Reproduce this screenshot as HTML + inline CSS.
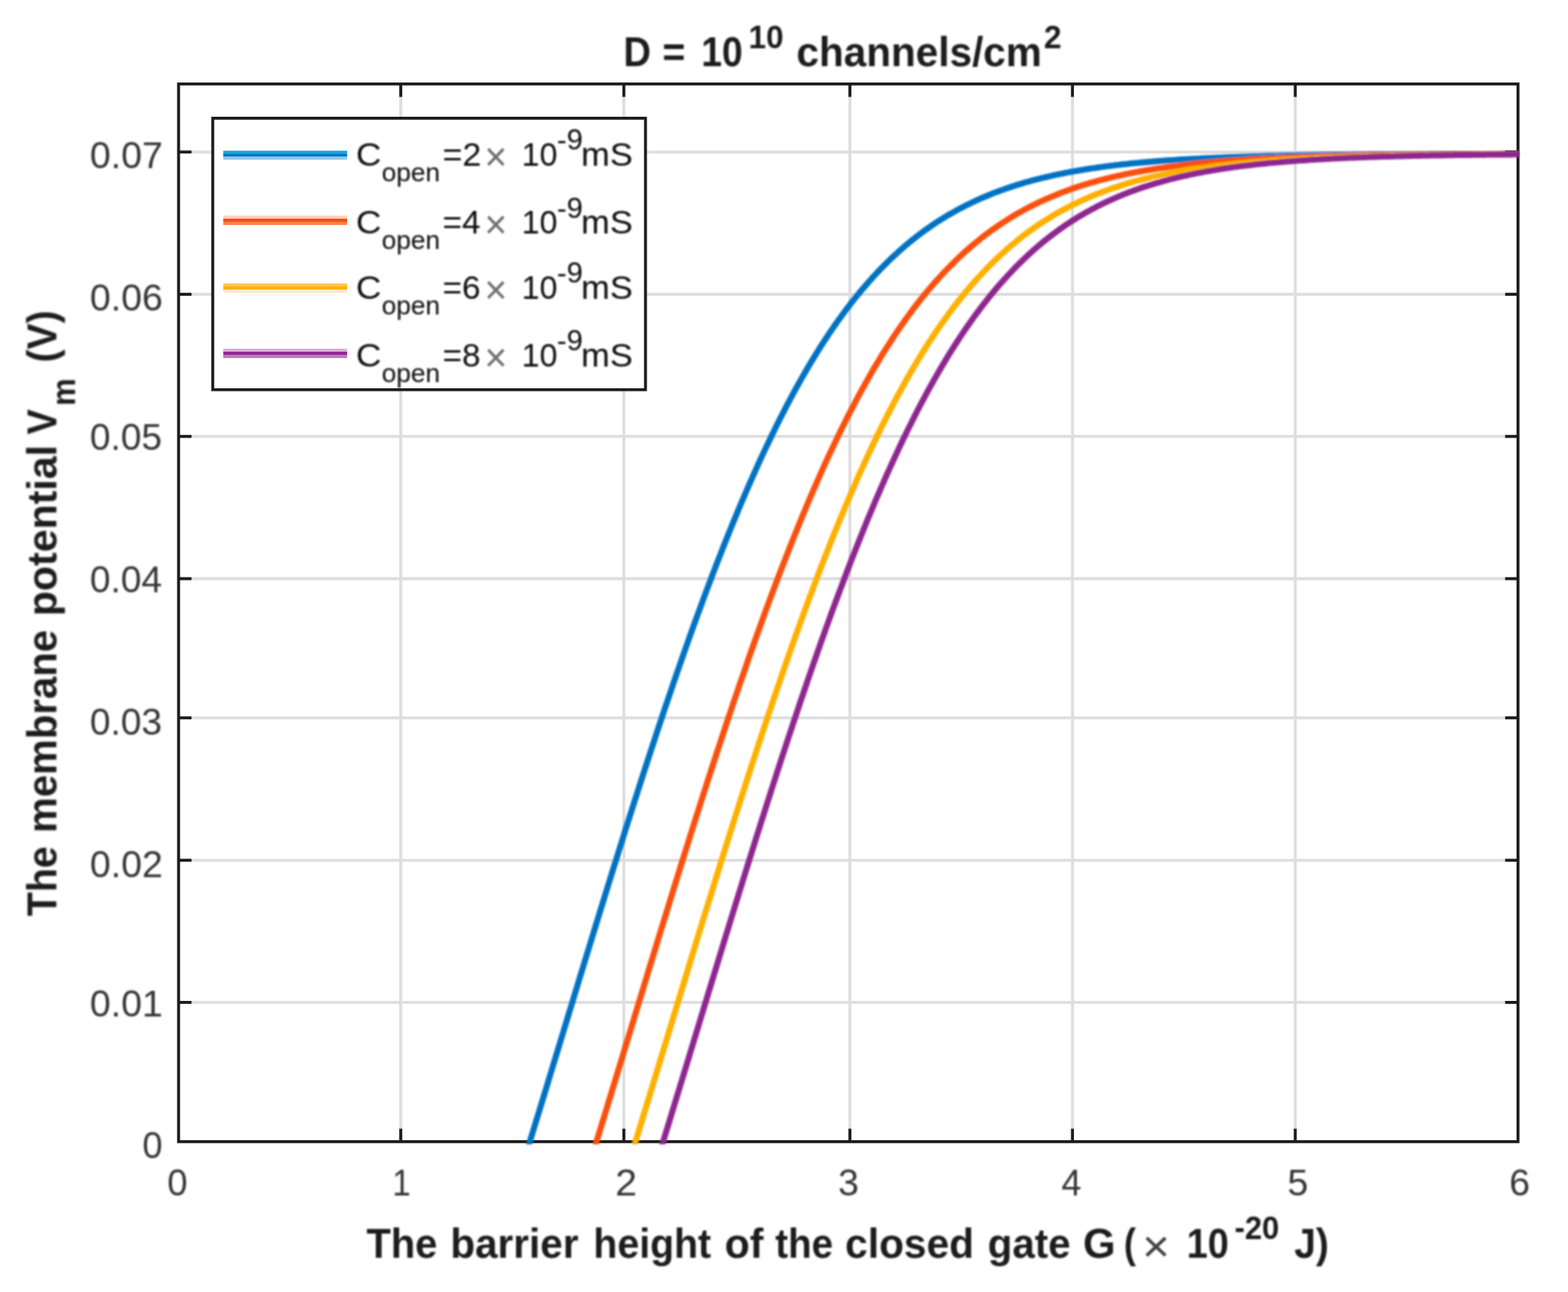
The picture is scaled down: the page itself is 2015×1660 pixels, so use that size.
<!DOCTYPE html>
<html lang="en"><head><meta charset="utf-8"><title>Membrane potential vs barrier height</title>
<style>
html,body{margin:0;padding:0;background:#fff;}
body{width:2015px;height:1660px;overflow:hidden;}
svg{display:block;}
text{font-family:"Liberation Sans",Arial,Helvetica,sans-serif;fill:#262626;}
.tk{font-size:48px;fill:#343434;}
.b{font-size:52.8px;font-weight:bold;fill:#1c1c1c;}
.bs{font-size:42.2px;font-weight:bold;fill:#1c1c1c;}
.lg{font-size:43.4px;fill:#0a0a0a;}
.lsub{font-size:33.5px;fill:#0a0a0a;}
.lsup{font-size:37px;fill:#0a0a0a;}
.xx{font-size:58px;fill:#404040;}
.lx{font-size:51px;fill:#707070;}
</style></head><body>
<svg width="2015" height="1660" viewBox="0 0 2015 1660">
<defs><clipPath id="cp"><rect x="227.60" y="106.00" width="1725.05" height="1364.25"/></clipPath>
<filter id="bl" filterUnits="userSpaceOnUse" x="0" y="0" width="2015" height="1660"><feGaussianBlur stdDeviation="0.55"/></filter>
<filter id="bc" filterUnits="userSpaceOnUse" x="0" y="0" width="2015" height="1660"><feGaussianBlur stdDeviation="1.3"/></filter>
<filter id="bt" filterUnits="userSpaceOnUse" x="0" y="0" width="2015" height="1660"><feGaussianBlur stdDeviation="1.2"/></filter>
</defs>
<rect width="2015" height="1660" fill="#fff"/>
<g filter="url(#bl)">
<g stroke="#dedede" stroke-width="3.8" fill="none">
<line x1="515.0" y1="107.9" x2="515.0" y2="1466.8"/>
<line x1="801.7" y1="107.9" x2="801.7" y2="1466.8"/>
<line x1="1092.2" y1="107.9" x2="1092.2" y2="1466.8"/>
<line x1="1378.2" y1="107.9" x2="1378.2" y2="1466.8"/>
<line x1="1664.5" y1="107.9" x2="1664.5" y2="1466.8"/>
<line x1="229.5" y1="1287.9" x2="1950.8" y2="1287.9"/>
<line x1="229.5" y1="1105.3" x2="1950.8" y2="1105.3"/>
<line x1="229.5" y1="922.3" x2="1950.8" y2="922.3"/>
<line x1="229.5" y1="743.5" x2="1950.8" y2="743.5"/>
<line x1="229.5" y1="560.7" x2="1950.8" y2="560.7"/>
<line x1="229.5" y1="378.1" x2="1950.8" y2="378.1"/>
<line x1="229.5" y1="195.3" x2="1950.8" y2="195.3"/>
</g>
<g stroke="#1e1e1e" stroke-width="3.8" fill="none">
<rect x="229.50" y="107.90" width="1721.25" height="1358.95"/>
<line x1="515.0" y1="1466.8" x2="515.0" y2="1450.2"/>
<line x1="515.0" y1="107.9" x2="515.0" y2="124.5"/>
<line x1="801.7" y1="1466.8" x2="801.7" y2="1450.2"/>
<line x1="801.7" y1="107.9" x2="801.7" y2="124.5"/>
<line x1="1092.2" y1="1466.8" x2="1092.2" y2="1450.2"/>
<line x1="1092.2" y1="107.9" x2="1092.2" y2="124.5"/>
<line x1="1378.2" y1="1466.8" x2="1378.2" y2="1450.2"/>
<line x1="1378.2" y1="107.9" x2="1378.2" y2="124.5"/>
<line x1="1664.5" y1="1466.8" x2="1664.5" y2="1450.2"/>
<line x1="1664.5" y1="107.9" x2="1664.5" y2="124.5"/>
<line x1="229.5" y1="1287.9" x2="246.1" y2="1287.9"/>
<line x1="1950.8" y1="1287.9" x2="1934.2" y2="1287.9"/>
<line x1="229.5" y1="1105.3" x2="246.1" y2="1105.3"/>
<line x1="1950.8" y1="1105.3" x2="1934.2" y2="1105.3"/>
<line x1="229.5" y1="922.3" x2="246.1" y2="922.3"/>
<line x1="1950.8" y1="922.3" x2="1934.2" y2="922.3"/>
<line x1="229.5" y1="743.5" x2="246.1" y2="743.5"/>
<line x1="1950.8" y1="743.5" x2="1934.2" y2="743.5"/>
<line x1="229.5" y1="560.7" x2="246.1" y2="560.7"/>
<line x1="1950.8" y1="560.7" x2="1934.2" y2="560.7"/>
<line x1="229.5" y1="378.1" x2="246.1" y2="378.1"/>
<line x1="1950.8" y1="378.1" x2="1934.2" y2="378.1"/>
<line x1="229.5" y1="195.3" x2="246.1" y2="195.3"/>
<line x1="1950.8" y1="195.3" x2="1934.2" y2="195.3"/>
</g>
</g>
<g filter="url(#bc)">
<g fill="none" stroke-linejoin="round" clip-path="url(#cp)">
<path stroke="#0072c4" stroke-width="7.8" d="M669.0,1505.4 L672.0,1495.7 L675.0,1486.0 L678.0,1476.2 L681.0,1466.5 L684.0,1456.7 L687.0,1446.9 L690.0,1437.1 L693.0,1427.3 L696.0,1417.5 L699.0,1407.6 L702.0,1397.8 L705.0,1387.9 L708.0,1378.1 L711.0,1368.2 L714.0,1358.4 L717.0,1348.5 L720.0,1338.6 L723.0,1328.8 L726.0,1318.9 L729.0,1309.0 L732.0,1299.2 L735.0,1289.3 L738.0,1279.4 L741.0,1269.6 L744.0,1259.7 L747.0,1249.9 L750.0,1240.1 L753.0,1230.2 L756.0,1220.4 L759.0,1210.6 L762.0,1200.8 L765.0,1191.0 L768.0,1181.3 L771.0,1171.5 L774.0,1161.8 L777.0,1152.1 L780.0,1142.4 L783.0,1132.7 L786.0,1123.0 L789.0,1113.4 L792.0,1103.8 L795.0,1094.2 L798.0,1084.6 L801.0,1075.1 L804.0,1065.5 L807.0,1056.0 L810.0,1046.6 L813.0,1037.1 L816.0,1027.7 L819.0,1018.4 L822.0,1009.0 L825.0,999.7 L828.0,990.4 L831.0,981.2 L834.0,972.0 L837.0,962.8 L840.0,953.7 L843.0,944.6 L846.0,935.5 L849.0,926.5 L852.0,917.5 L855.0,908.6 L858.0,899.7 L861.0,890.9 L864.0,882.1 L867.0,873.3 L870.0,864.6 L873.0,855.9 L876.0,847.3 L879.0,838.8 L882.0,830.2 L885.0,821.8 L888.0,813.4 L891.0,805.0 L894.0,796.7 L897.0,788.5 L900.0,780.3 L903.0,772.1 L906.0,764.1 L909.0,756.0 L912.0,748.1 L915.0,740.1 L918.0,732.3 L921.0,724.5 L924.0,716.8 L927.0,709.1 L930.0,701.5 L933.0,694.0 L936.0,686.5 L939.0,679.1 L942.0,671.7 L945.0,664.4 L948.0,657.2 L951.0,650.1 L954.0,643.0 L957.0,635.9 L960.0,629.0 L963.0,622.1 L966.0,615.3 L969.0,608.5 L972.0,601.8 L975.0,595.2 L978.0,588.7 L981.0,582.2 L984.0,575.8 L987.0,569.5 L990.0,563.2 L993.0,557.0 L996.0,550.9 L999.0,544.8 L1002.0,538.8 L1005.0,532.9 L1008.0,527.1 L1011.0,521.3 L1014.0,515.6 L1017.0,510.0 L1020.0,504.4 L1023.0,498.9 L1026.0,493.5 L1029.0,488.2 L1032.0,482.9 L1035.0,477.7 L1038.0,472.5 L1041.0,467.5 L1044.0,462.5 L1047.0,457.6 L1050.0,452.7 L1053.0,447.9 L1056.0,443.2 L1059.0,438.5 L1062.0,434.0 L1065.0,429.4 L1068.0,425.0 L1071.0,420.6 L1074.0,416.3 L1077.0,412.1 L1080.0,407.9 L1083.0,403.8 L1086.0,399.7 L1089.0,395.7 L1092.0,391.8 L1095.0,387.9 L1098.0,384.1 L1101.0,380.4 L1104.0,376.7 L1107.0,373.1 L1110.0,369.6 L1113.0,366.1 L1116.0,362.6 L1119.0,359.3 L1122.0,355.9 L1125.0,352.7 L1128.0,349.5 L1131.0,346.3 L1134.0,343.3 L1137.0,340.2 L1140.0,337.2 L1143.0,334.3 L1146.0,331.4 L1149.0,328.6 L1152.0,325.9 L1155.0,323.1 L1158.0,320.5 L1161.0,317.9 L1164.0,315.3 L1167.0,312.8 L1170.0,310.3 L1173.0,307.9 L1176.0,305.5 L1179.0,303.2 L1182.0,300.9 L1185.0,298.6 L1188.0,296.4 L1191.0,294.3 L1194.0,292.2 L1197.0,290.1 L1200.0,288.1 L1203.0,286.1 L1206.0,284.1 L1209.0,282.2 L1212.0,280.4 L1215.0,278.5 L1218.0,276.7 L1221.0,275.0 L1224.0,273.3 L1227.0,271.6 L1230.0,269.9 L1233.0,268.3 L1236.0,266.7 L1239.0,265.2 L1242.0,263.6 L1245.0,262.2 L1248.0,260.7 L1251.0,259.3 L1254.0,257.9 L1257.0,256.5 L1260.0,255.2 L1263.0,253.9 L1266.0,252.6 L1269.0,251.3 L1272.0,250.1 L1275.0,248.9 L1278.0,247.7 L1281.0,246.6 L1284.0,245.5 L1287.0,244.4 L1290.0,243.3 L1293.0,242.2 L1296.0,241.2 L1299.0,240.2 L1302.0,239.2 L1305.0,238.3 L1308.0,237.3 L1311.0,236.4 L1314.0,235.5 L1317.0,234.6 L1320.0,233.8 L1323.0,232.9 L1326.0,232.1 L1329.0,231.3 L1332.0,230.5 L1335.0,229.8 L1338.0,229.0 L1341.0,228.3 L1344.0,227.6 L1347.0,226.9 L1350.0,226.2 L1353.0,225.5 L1356.0,224.8 L1359.0,224.2 L1362.0,223.6 L1365.0,223.0 L1368.0,222.4 L1371.0,221.8 L1374.0,221.2 L1377.0,220.7 L1380.0,220.1 L1383.0,219.6 L1386.0,219.1 L1389.0,218.6 L1392.0,218.1 L1395.0,217.6 L1398.0,217.1 L1401.0,216.6 L1404.0,216.2 L1407.0,215.8 L1410.0,215.3 L1413.0,214.9 L1416.0,214.5 L1419.0,214.1 L1422.0,213.7 L1425.0,213.3 L1428.0,212.9 L1431.0,212.6 L1434.0,212.2 L1437.0,211.9 L1440.0,211.5 L1443.0,211.2 L1446.0,210.9 L1449.0,210.6 L1452.0,210.2 L1455.0,209.9 L1458.0,209.6 L1461.0,209.4 L1464.0,209.1 L1467.0,208.8 L1470.0,208.5 L1473.0,208.3 L1476.0,208.0 L1479.0,207.8 L1482.0,207.5 L1485.0,207.3 L1488.0,207.0 L1491.0,206.8 L1494.0,206.6 L1497.0,206.4 L1500.0,206.2 L1503.0,206.0 L1506.0,205.8 L1509.0,205.6 L1512.0,205.4 L1515.0,205.2 L1518.0,205.0 L1521.0,204.8 L1524.0,204.6 L1527.0,204.5 L1530.0,204.3 L1533.0,204.1 L1536.0,204.0 L1539.0,203.8 L1542.0,203.7 L1545.0,203.5 L1548.0,203.4 L1551.0,203.2 L1554.0,203.1 L1557.0,203.0 L1560.0,202.8 L1563.0,202.7 L1566.0,202.6 L1569.0,202.5 L1572.0,202.3 L1575.0,202.2 L1578.0,202.1 L1581.0,202.0 L1584.0,201.9 L1587.0,201.8 L1590.0,201.7 L1593.0,201.6 L1596.0,201.5 L1599.0,201.4 L1602.0,201.3 L1605.0,201.2 L1608.0,201.1 L1611.0,201.0 L1614.0,200.9 L1617.0,200.9 L1620.0,200.8 L1623.0,200.7 L1626.0,200.6 L1629.0,200.5 L1632.0,200.5 L1635.0,200.4 L1638.0,200.3 L1641.0,200.3 L1644.0,200.2 L1647.0,200.1 L1650.0,200.1 L1653.0,200.0 L1656.0,199.9 L1659.0,199.9 L1662.0,199.8 L1665.0,199.8 L1668.0,199.7 L1671.0,199.7 L1674.0,199.6 L1677.0,199.6 L1680.0,199.5 L1683.0,199.5 L1686.0,199.4 L1689.0,199.4 L1692.0,199.3 L1695.0,199.3 L1698.0,199.2 L1701.0,199.2 L1704.0,199.1 L1707.0,199.1 L1710.0,199.1 L1713.0,199.0 L1716.0,199.0 L1719.0,199.0 L1722.0,198.9 L1725.0,198.9 L1728.0,198.9 L1731.0,198.8 L1734.0,198.8 L1737.0,198.8 L1740.0,198.7 L1743.0,198.7 L1746.0,198.7 L1749.0,198.6 L1752.0,198.6 L1755.0,198.6 L1758.0,198.6 L1761.0,198.5 L1764.0,198.5 L1767.0,198.5 L1770.0,198.5 L1773.0,198.4 L1776.0,198.4 L1779.0,198.4 L1782.0,198.4 L1785.0,198.3 L1788.0,198.3 L1791.0,198.3 L1794.0,198.3 L1797.0,198.3 L1800.0,198.2 L1803.0,198.2 L1806.0,198.2 L1809.0,198.2 L1812.0,198.2 L1815.0,198.2 L1818.0,198.1 L1821.0,198.1 L1824.0,198.1 L1827.0,198.1 L1830.0,198.1 L1833.0,198.1 L1836.0,198.0 L1839.0,198.0 L1842.0,198.0 L1845.0,198.0 L1848.0,198.0 L1851.0,198.0 L1854.0,198.0 L1857.0,198.0 L1860.0,197.9 L1863.0,197.9 L1866.0,197.9 L1869.0,197.9 L1872.0,197.9 L1875.0,197.9 L1878.0,197.9 L1881.0,197.9 L1884.0,197.9 L1887.0,197.8 L1890.0,197.8 L1893.0,197.8 L1896.0,197.8 L1899.0,197.8 L1902.0,197.8 L1905.0,197.8 L1908.0,197.8 L1911.0,197.8 L1914.0,197.8 L1917.0,197.8 L1920.0,197.8 L1923.0,197.8 L1926.0,197.7 L1929.0,197.7 L1932.0,197.7 L1935.0,197.7 L1938.0,197.7 L1941.0,197.7 L1944.0,197.7 L1947.0,197.7 L1950.0,197.7 L1952.2,197.7"/>
<path stroke="#fa500a" stroke-width="7.8" d="M756.0,1501.0 L759.0,1491.3 L762.0,1481.6 L765.0,1471.8 L768.0,1462.0 L771.0,1452.2 L774.0,1442.5 L777.0,1432.6 L780.0,1422.8 L783.0,1413.0 L786.0,1403.2 L789.0,1393.3 L792.0,1383.5 L795.0,1373.6 L798.0,1363.8 L801.0,1353.9 L804.0,1344.0 L807.0,1334.2 L810.0,1324.3 L813.0,1314.4 L816.0,1304.6 L819.0,1294.7 L822.0,1284.8 L825.0,1275.0 L828.0,1265.1 L831.0,1255.3 L834.0,1245.4 L837.0,1235.6 L840.0,1225.8 L843.0,1216.0 L846.0,1206.2 L849.0,1196.4 L852.0,1186.6 L855.0,1176.9 L858.0,1167.1 L861.0,1157.4 L864.0,1147.7 L867.0,1138.0 L870.0,1128.3 L873.0,1118.7 L876.0,1109.0 L879.0,1099.4 L882.0,1089.8 L885.0,1080.3 L888.0,1070.7 L891.0,1061.2 L894.0,1051.8 L897.0,1042.3 L900.0,1032.9 L903.0,1023.5 L906.0,1014.1 L909.0,1004.8 L912.0,995.5 L915.0,986.2 L918.0,977.0 L921.0,967.8 L924.0,958.7 L927.0,949.5 L930.0,940.5 L933.0,931.4 L936.0,922.4 L939.0,913.5 L942.0,904.6 L945.0,895.7 L948.0,886.9 L951.0,878.1 L954.0,869.4 L957.0,860.7 L960.0,852.0 L963.0,843.4 L966.0,834.9 L969.0,826.4 L972.0,818.0 L975.0,809.6 L978.0,801.2 L981.0,793.0 L984.0,784.7 L987.0,776.6 L990.0,768.5 L993.0,760.4 L996.0,752.4 L999.0,744.5 L1002.0,736.6 L1005.0,728.8 L1008.0,721.0 L1011.0,713.3 L1014.0,705.7 L1017.0,698.1 L1020.0,690.6 L1023.0,683.1 L1026.0,675.7 L1029.0,668.4 L1032.0,661.1 L1035.0,654.0 L1038.0,646.8 L1041.0,639.8 L1044.0,632.8 L1047.0,625.9 L1050.0,619.0 L1053.0,612.2 L1056.0,605.5 L1059.0,598.8 L1062.0,592.2 L1065.0,585.7 L1068.0,579.3 L1071.0,572.9 L1074.0,566.6 L1077.0,560.4 L1080.0,554.2 L1083.0,548.1 L1086.0,542.1 L1089.0,536.1 L1092.0,530.3 L1095.0,524.4 L1098.0,518.7 L1101.0,513.0 L1104.0,507.4 L1107.0,501.9 L1110.0,496.5 L1113.0,491.1 L1116.0,485.8 L1119.0,480.5 L1122.0,475.3 L1125.0,470.2 L1128.0,465.2 L1131.0,460.2 L1134.0,455.3 L1137.0,450.5 L1140.0,445.8 L1143.0,441.1 L1146.0,436.5 L1149.0,431.9 L1152.0,427.4 L1155.0,423.0 L1158.0,418.7 L1161.0,414.4 L1164.0,410.1 L1167.0,406.0 L1170.0,401.9 L1173.0,397.9 L1176.0,393.9 L1179.0,390.0 L1182.0,386.2 L1185.0,382.4 L1188.0,378.7 L1191.0,375.1 L1194.0,371.5 L1197.0,368.0 L1200.0,364.5 L1203.0,361.1 L1206.0,357.8 L1209.0,354.5 L1212.0,351.2 L1215.0,348.1 L1218.0,344.9 L1221.0,341.9 L1224.0,338.9 L1227.0,335.9 L1230.0,333.0 L1233.0,330.2 L1236.0,327.4 L1239.0,324.6 L1242.0,321.9 L1245.0,319.3 L1248.0,316.7 L1251.0,314.1 L1254.0,311.7 L1257.0,309.2 L1260.0,306.8 L1263.0,304.4 L1266.0,302.1 L1269.0,299.9 L1272.0,297.6 L1275.0,295.5 L1278.0,293.3 L1281.0,291.2 L1284.0,289.2 L1287.0,287.2 L1290.0,285.2 L1293.0,283.3 L1296.0,281.4 L1299.0,279.5 L1302.0,277.7 L1305.0,275.9 L1308.0,274.2 L1311.0,272.5 L1314.0,270.8 L1317.0,269.2 L1320.0,267.6 L1323.0,266.0 L1326.0,264.5 L1329.0,263.0 L1332.0,261.5 L1335.0,260.0 L1338.0,258.6 L1341.0,257.3 L1344.0,255.9 L1347.0,254.6 L1350.0,253.3 L1353.0,252.0 L1356.0,250.8 L1359.0,249.6 L1362.0,248.4 L1365.0,247.2 L1368.0,246.1 L1371.0,245.0 L1374.0,243.9 L1377.0,242.8 L1380.0,241.8 L1383.0,240.8 L1386.0,239.8 L1389.0,238.8 L1392.0,237.8 L1395.0,236.9 L1398.0,236.0 L1401.0,235.1 L1404.0,234.2 L1407.0,233.4 L1410.0,232.6 L1413.0,231.7 L1416.0,230.9 L1419.0,230.2 L1422.0,229.4 L1425.0,228.7 L1428.0,227.9 L1431.0,227.2 L1434.0,226.5 L1437.0,225.9 L1440.0,225.2 L1443.0,224.6 L1446.0,223.9 L1449.0,223.3 L1452.0,222.7 L1455.0,222.1 L1458.0,221.5 L1461.0,221.0 L1464.0,220.4 L1467.0,219.9 L1470.0,219.4 L1473.0,218.8 L1476.0,218.3 L1479.0,217.8 L1482.0,217.4 L1485.0,216.9 L1488.0,216.4 L1491.0,216.0 L1494.0,215.6 L1497.0,215.1 L1500.0,214.7 L1503.0,214.3 L1506.0,213.9 L1509.0,213.5 L1512.0,213.1 L1515.0,212.8 L1518.0,212.4 L1521.0,212.1 L1524.0,211.7 L1527.0,211.4 L1530.0,211.0 L1533.0,210.7 L1536.0,210.4 L1539.0,210.1 L1542.0,209.8 L1545.0,209.5 L1548.0,209.2 L1551.0,209.0 L1554.0,208.7 L1557.0,208.4 L1560.0,208.2 L1563.0,207.9 L1566.0,207.7 L1569.0,207.4 L1572.0,207.2 L1575.0,206.9 L1578.0,206.7 L1581.0,206.5 L1584.0,206.3 L1587.0,206.1 L1590.0,205.9 L1593.0,205.7 L1596.0,205.5 L1599.0,205.3 L1602.0,205.1 L1605.0,204.9 L1608.0,204.7 L1611.0,204.6 L1614.0,204.4 L1617.0,204.2 L1620.0,204.1 L1623.0,203.9 L1626.0,203.8 L1629.0,203.6 L1632.0,203.5 L1635.0,203.3 L1638.0,203.2 L1641.0,203.0 L1644.0,202.9 L1647.0,202.8 L1650.0,202.7 L1653.0,202.5 L1656.0,202.4 L1659.0,202.3 L1662.0,202.2 L1665.0,202.1 L1668.0,202.0 L1671.0,201.8 L1674.0,201.7 L1677.0,201.6 L1680.0,201.5 L1683.0,201.4 L1686.0,201.3 L1689.0,201.3 L1692.0,201.2 L1695.0,201.1 L1698.0,201.0 L1701.0,200.9 L1704.0,200.8 L1707.0,200.7 L1710.0,200.7 L1713.0,200.6 L1716.0,200.5 L1719.0,200.4 L1722.0,200.4 L1725.0,200.3 L1728.0,200.2 L1731.0,200.2 L1734.0,200.1 L1737.0,200.0 L1740.0,200.0 L1743.0,199.9 L1746.0,199.9 L1749.0,199.8 L1752.0,199.7 L1755.0,199.7 L1758.0,199.6 L1761.0,199.6 L1764.0,199.5 L1767.0,199.5 L1770.0,199.4 L1773.0,199.4 L1776.0,199.3 L1779.0,199.3 L1782.0,199.3 L1785.0,199.2 L1788.0,199.2 L1791.0,199.1 L1794.0,199.1 L1797.0,199.1 L1800.0,199.0 L1803.0,199.0 L1806.0,198.9 L1809.0,198.9 L1812.0,198.9 L1815.0,198.8 L1818.0,198.8 L1821.0,198.8 L1824.0,198.7 L1827.0,198.7 L1830.0,198.7 L1833.0,198.7 L1836.0,198.6 L1839.0,198.6 L1842.0,198.6 L1845.0,198.5 L1848.0,198.5 L1851.0,198.5 L1854.0,198.5 L1857.0,198.4 L1860.0,198.4 L1863.0,198.4 L1866.0,198.4 L1869.0,198.4 L1872.0,198.3 L1875.0,198.3 L1878.0,198.3 L1881.0,198.3 L1884.0,198.3 L1887.0,198.2 L1890.0,198.2 L1893.0,198.2 L1896.0,198.2 L1899.0,198.2 L1902.0,198.1 L1905.0,198.1 L1908.0,198.1 L1911.0,198.1 L1914.0,198.1 L1917.0,198.1 L1920.0,198.1 L1923.0,198.0 L1926.0,198.0 L1929.0,198.0 L1932.0,198.0 L1935.0,198.0 L1938.0,198.0 L1941.0,198.0 L1944.0,197.9 L1947.0,197.9 L1950.0,197.9 L1952.2,197.9"/>
<path stroke="#ffb000" stroke-width="7.8" d="M807.0,1498.1 L810.0,1488.4 L813.0,1478.6 L816.0,1468.9 L819.0,1459.1 L822.0,1449.3 L825.0,1439.5 L828.0,1429.7 L831.0,1419.9 L834.0,1410.0 L837.0,1400.2 L840.0,1390.4 L843.0,1380.5 L846.0,1370.6 L849.0,1360.8 L852.0,1350.9 L855.0,1341.1 L858.0,1331.2 L861.0,1321.3 L864.0,1311.4 L867.0,1301.6 L870.0,1291.7 L873.0,1281.9 L876.0,1272.0 L879.0,1262.1 L882.0,1252.3 L885.0,1242.5 L888.0,1232.6 L891.0,1222.8 L894.0,1213.0 L897.0,1203.2 L900.0,1193.4 L903.0,1183.7 L906.0,1173.9 L909.0,1164.2 L912.0,1154.5 L915.0,1144.8 L918.0,1135.1 L921.0,1125.4 L924.0,1115.8 L927.0,1106.1 L930.0,1096.5 L933.0,1087.0 L936.0,1077.4 L939.0,1067.9 L942.0,1058.4 L945.0,1048.9 L948.0,1039.5 L951.0,1030.0 L954.0,1020.7 L957.0,1011.3 L960.0,1002.0 L963.0,992.7 L966.0,983.4 L969.0,974.2 L972.0,965.0 L975.0,955.9 L978.0,946.8 L981.0,937.7 L984.0,928.7 L987.0,919.7 L990.0,910.8 L993.0,901.9 L996.0,893.0 L999.0,884.2 L1002.0,875.4 L1005.0,866.7 L1008.0,858.1 L1011.0,849.4 L1014.0,840.9 L1017.0,832.3 L1020.0,823.9 L1023.0,815.4 L1026.0,807.1 L1029.0,798.7 L1032.0,790.5 L1035.0,782.3 L1038.0,774.1 L1041.0,766.0 L1044.0,758.0 L1047.0,750.0 L1050.0,742.1 L1053.0,734.2 L1056.0,726.4 L1059.0,718.7 L1062.0,711.0 L1065.0,703.4 L1068.0,695.8 L1071.0,688.3 L1074.0,680.9 L1077.0,673.5 L1080.0,666.2 L1083.0,659.0 L1086.0,651.8 L1089.0,644.7 L1092.0,637.7 L1095.0,630.7 L1098.0,623.8 L1101.0,616.9 L1104.0,610.2 L1107.0,603.5 L1110.0,596.8 L1113.0,590.3 L1116.0,583.8 L1119.0,577.4 L1122.0,571.0 L1125.0,564.7 L1128.0,558.5 L1131.0,552.4 L1134.0,546.3 L1137.0,540.3 L1140.0,534.4 L1143.0,528.5 L1146.0,522.7 L1149.0,517.0 L1152.0,511.3 L1155.0,505.8 L1158.0,500.3 L1161.0,494.8 L1164.0,489.5 L1167.0,484.2 L1170.0,478.9 L1173.0,473.8 L1176.0,468.7 L1179.0,463.7 L1182.0,458.8 L1185.0,453.9 L1188.0,449.1 L1191.0,444.3 L1194.0,439.7 L1197.0,435.1 L1200.0,430.5 L1203.0,426.1 L1206.0,421.7 L1209.0,417.4 L1212.0,413.1 L1215.0,408.9 L1218.0,404.8 L1221.0,400.7 L1224.0,396.7 L1227.0,392.7 L1230.0,388.9 L1233.0,385.1 L1236.0,381.3 L1239.0,377.6 L1242.0,374.0 L1245.0,370.4 L1248.0,366.9 L1251.0,363.5 L1254.0,360.1 L1257.0,356.8 L1260.0,353.5 L1263.0,350.3 L1266.0,347.1 L1269.0,344.0 L1272.0,341.0 L1275.0,338.0 L1278.0,335.0 L1281.0,332.1 L1284.0,329.3 L1287.0,326.5 L1290.0,323.8 L1293.0,321.1 L1296.0,318.5 L1299.0,315.9 L1302.0,313.4 L1305.0,310.9 L1308.0,308.5 L1311.0,306.1 L1314.0,303.7 L1317.0,301.4 L1320.0,299.2 L1323.0,297.0 L1326.0,294.8 L1329.0,292.7 L1332.0,290.6 L1335.0,288.6 L1338.0,286.6 L1341.0,284.6 L1344.0,282.7 L1347.0,280.8 L1350.0,279.0 L1353.0,277.2 L1356.0,275.4 L1359.0,273.7 L1362.0,272.0 L1365.0,270.3 L1368.0,268.7 L1371.0,267.1 L1374.0,265.5 L1377.0,264.0 L1380.0,262.5 L1383.0,261.1 L1386.0,259.6 L1389.0,258.2 L1392.0,256.8 L1395.0,255.5 L1398.0,254.2 L1401.0,252.9 L1404.0,251.6 L1407.0,250.4 L1410.0,249.2 L1413.0,248.0 L1416.0,246.9 L1419.0,245.7 L1422.0,244.6 L1425.0,243.6 L1428.0,242.5 L1431.0,241.5 L1434.0,240.5 L1437.0,239.5 L1440.0,238.5 L1443.0,237.6 L1446.0,236.6 L1449.0,235.7 L1452.0,234.8 L1455.0,234.0 L1458.0,233.1 L1461.0,232.3 L1464.0,231.5 L1467.0,230.7 L1470.0,229.9 L1473.0,229.2 L1476.0,228.5 L1479.0,227.7 L1482.0,227.0 L1485.0,226.3 L1488.0,225.7 L1491.0,225.0 L1494.0,224.4 L1497.0,223.7 L1500.0,223.1 L1503.0,222.5 L1506.0,221.9 L1509.0,221.4 L1512.0,220.8 L1515.0,220.3 L1518.0,219.7 L1521.0,219.2 L1524.0,218.7 L1527.0,218.2 L1530.0,217.7 L1533.0,217.2 L1536.0,216.8 L1539.0,216.3 L1542.0,215.9 L1545.0,215.4 L1548.0,215.0 L1551.0,214.6 L1554.0,214.2 L1557.0,213.8 L1560.0,213.4 L1563.0,213.0 L1566.0,212.7 L1569.0,212.3 L1572.0,212.0 L1575.0,211.6 L1578.0,211.3 L1581.0,211.0 L1584.0,210.6 L1587.0,210.3 L1590.0,210.0 L1593.0,209.7 L1596.0,209.4 L1599.0,209.1 L1602.0,208.9 L1605.0,208.6 L1608.0,208.3 L1611.0,208.1 L1614.0,207.8 L1617.0,207.6 L1620.0,207.3 L1623.0,207.1 L1626.0,206.9 L1629.0,206.7 L1632.0,206.4 L1635.0,206.2 L1638.0,206.0 L1641.0,205.8 L1644.0,205.6 L1647.0,205.4 L1650.0,205.2 L1653.0,205.0 L1656.0,204.9 L1659.0,204.7 L1662.0,204.5 L1665.0,204.3 L1668.0,204.2 L1671.0,204.0 L1674.0,203.9 L1677.0,203.7 L1680.0,203.6 L1683.0,203.4 L1686.0,203.3 L1689.0,203.1 L1692.0,203.0 L1695.0,202.9 L1698.0,202.7 L1701.0,202.6 L1704.0,202.5 L1707.0,202.4 L1710.0,202.3 L1713.0,202.1 L1716.0,202.0 L1719.0,201.9 L1722.0,201.8 L1725.0,201.7 L1728.0,201.6 L1731.0,201.5 L1734.0,201.4 L1737.0,201.3 L1740.0,201.2 L1743.0,201.1 L1746.0,201.0 L1749.0,201.0 L1752.0,200.9 L1755.0,200.8 L1758.0,200.7 L1761.0,200.6 L1764.0,200.6 L1767.0,200.5 L1770.0,200.4 L1773.0,200.3 L1776.0,200.3 L1779.0,200.2 L1782.0,200.1 L1785.0,200.1 L1788.0,200.0 L1791.0,200.0 L1794.0,199.9 L1797.0,199.8 L1800.0,199.8 L1803.0,199.7 L1806.0,199.7 L1809.0,199.6 L1812.0,199.6 L1815.0,199.5 L1818.0,199.5 L1821.0,199.4 L1824.0,199.4 L1827.0,199.3 L1830.0,199.3 L1833.0,199.2 L1836.0,199.2 L1839.0,199.2 L1842.0,199.1 L1845.0,199.1 L1848.0,199.0 L1851.0,199.0 L1854.0,199.0 L1857.0,198.9 L1860.0,198.9 L1863.0,198.9 L1866.0,198.8 L1869.0,198.8 L1872.0,198.8 L1875.0,198.7 L1878.0,198.7 L1881.0,198.7 L1884.0,198.6 L1887.0,198.6 L1890.0,198.6 L1893.0,198.6 L1896.0,198.5 L1899.0,198.5 L1902.0,198.5 L1905.0,198.5 L1908.0,198.4 L1911.0,198.4 L1914.0,198.4 L1917.0,198.4 L1920.0,198.3 L1923.0,198.3 L1926.0,198.3 L1929.0,198.3 L1932.0,198.3 L1935.0,198.2 L1938.0,198.2 L1941.0,198.2 L1944.0,198.2 L1947.0,198.2 L1950.0,198.2 L1952.2,198.1"/>
<path stroke="#8e2890" stroke-width="7.8" d="M840.0,1506.3 L843.0,1496.6 L846.0,1486.9 L849.0,1477.1 L852.0,1467.4 L855.0,1457.6 L858.0,1447.8 L861.0,1438.0 L864.0,1428.2 L867.0,1418.4 L870.0,1408.5 L873.0,1398.7 L876.0,1388.9 L879.0,1379.0 L882.0,1369.1 L885.0,1359.3 L888.0,1349.4 L891.0,1339.6 L894.0,1329.7 L897.0,1319.8 L900.0,1309.9 L903.0,1300.1 L906.0,1290.2 L909.0,1280.4 L912.0,1270.5 L915.0,1260.6 L918.0,1250.8 L921.0,1241.0 L924.0,1231.1 L927.0,1221.3 L930.0,1211.5 L933.0,1201.7 L936.0,1192.0 L939.0,1182.2 L942.0,1172.4 L945.0,1162.7 L948.0,1153.0 L951.0,1143.3 L954.0,1133.6 L957.0,1123.9 L960.0,1114.3 L963.0,1104.7 L966.0,1095.1 L969.0,1085.5 L972.0,1075.9 L975.0,1066.4 L978.0,1056.9 L981.0,1047.5 L984.0,1038.0 L987.0,1028.6 L990.0,1019.2 L993.0,1009.9 L996.0,1000.6 L999.0,991.3 L1002.0,982.0 L1005.0,972.8 L1008.0,963.7 L1011.0,954.5 L1014.0,945.4 L1017.0,936.4 L1020.0,927.3 L1023.0,918.4 L1026.0,909.4 L1029.0,900.5 L1032.0,891.7 L1035.0,882.9 L1038.0,874.1 L1041.0,865.4 L1044.0,856.7 L1047.0,848.1 L1050.0,839.6 L1053.0,831.0 L1056.0,822.6 L1059.0,814.2 L1062.0,805.8 L1065.0,797.5 L1068.0,789.2 L1071.0,781.0 L1074.0,772.9 L1077.0,764.8 L1080.0,756.8 L1083.0,748.8 L1086.0,740.9 L1089.0,733.0 L1092.0,725.2 L1095.0,717.5 L1098.0,709.8 L1101.0,702.2 L1104.0,694.7 L1107.0,687.2 L1110.0,679.8 L1113.0,672.4 L1116.0,665.1 L1119.0,657.9 L1122.0,650.7 L1125.0,643.6 L1128.0,636.6 L1131.0,629.6 L1134.0,622.7 L1137.0,615.9 L1140.0,609.1 L1143.0,602.5 L1146.0,595.8 L1149.0,589.3 L1152.0,582.8 L1155.0,576.4 L1158.0,570.0 L1161.0,563.8 L1164.0,557.6 L1167.0,551.4 L1170.0,545.4 L1173.0,539.4 L1176.0,533.5 L1179.0,527.6 L1182.0,521.8 L1185.0,516.1 L1188.0,510.5 L1191.0,504.9 L1194.0,499.4 L1197.0,494.0 L1200.0,488.7 L1203.0,483.4 L1206.0,478.2 L1209.0,473.0 L1212.0,467.9 L1215.0,462.9 L1218.0,458.0 L1221.0,453.1 L1224.0,448.4 L1227.0,443.6 L1230.0,439.0 L1233.0,434.4 L1236.0,429.9 L1239.0,425.4 L1242.0,421.0 L1245.0,416.7 L1248.0,412.4 L1251.0,408.3 L1254.0,404.1 L1257.0,400.1 L1260.0,396.1 L1263.0,392.2 L1266.0,388.3 L1269.0,384.5 L1272.0,380.7 L1275.0,377.1 L1278.0,373.4 L1281.0,369.9 L1284.0,366.4 L1287.0,363.0 L1290.0,359.6 L1293.0,356.3 L1296.0,353.0 L1299.0,349.8 L1302.0,346.6 L1305.0,343.5 L1308.0,340.5 L1311.0,337.5 L1314.0,334.6 L1317.0,331.7 L1320.0,328.9 L1323.0,326.1 L1326.0,323.4 L1329.0,320.7 L1332.0,318.1 L1335.0,315.5 L1338.0,313.0 L1341.0,310.5 L1344.0,308.1 L1347.0,305.7 L1350.0,303.4 L1353.0,301.1 L1356.0,298.9 L1359.0,296.7 L1362.0,294.5 L1365.0,292.4 L1368.0,290.3 L1371.0,288.3 L1374.0,286.3 L1377.0,284.3 L1380.0,282.4 L1383.0,280.5 L1386.0,278.7 L1389.0,276.9 L1392.0,275.1 L1395.0,273.4 L1398.0,271.7 L1401.0,270.1 L1404.0,268.4 L1407.0,266.9 L1410.0,265.3 L1413.0,263.8 L1416.0,262.3 L1419.0,260.8 L1422.0,259.4 L1425.0,258.0 L1428.0,256.6 L1431.0,255.3 L1434.0,254.0 L1437.0,252.7 L1440.0,251.5 L1443.0,250.2 L1446.0,249.0 L1449.0,247.8 L1452.0,246.7 L1455.0,245.6 L1458.0,244.5 L1461.0,243.4 L1464.0,242.3 L1467.0,241.3 L1470.0,240.3 L1473.0,239.3 L1476.0,238.4 L1479.0,237.4 L1482.0,236.5 L1485.0,235.6 L1488.0,234.7 L1491.0,233.9 L1494.0,233.0 L1497.0,232.2 L1500.0,231.4 L1503.0,230.6 L1506.0,229.8 L1509.0,229.1 L1512.0,228.3 L1515.0,227.6 L1518.0,226.9 L1521.0,226.2 L1524.0,225.6 L1527.0,224.9 L1530.0,224.3 L1533.0,223.6 L1536.0,223.0 L1539.0,222.4 L1542.0,221.8 L1545.0,221.3 L1548.0,220.7 L1551.0,220.2 L1554.0,219.6 L1557.0,219.1 L1560.0,218.6 L1563.0,218.1 L1566.0,217.6 L1569.0,217.2 L1572.0,216.7 L1575.0,216.2 L1578.0,215.8 L1581.0,215.4 L1584.0,214.9 L1587.0,214.5 L1590.0,214.1 L1593.0,213.7 L1596.0,213.4 L1599.0,213.0 L1602.0,212.6 L1605.0,212.3 L1608.0,211.9 L1611.0,211.6 L1614.0,211.2 L1617.0,210.9 L1620.0,210.6 L1623.0,210.3 L1626.0,210.0 L1629.0,209.7 L1632.0,209.4 L1635.0,209.1 L1638.0,208.8 L1641.0,208.6 L1644.0,208.3 L1647.0,208.0 L1650.0,207.8 L1653.0,207.5 L1656.0,207.3 L1659.0,207.1 L1662.0,206.8 L1665.0,206.6 L1668.0,206.4 L1671.0,206.2 L1674.0,206.0 L1677.0,205.8 L1680.0,205.6 L1683.0,205.4 L1686.0,205.2 L1689.0,205.0 L1692.0,204.8 L1695.0,204.7 L1698.0,204.5 L1701.0,204.3 L1704.0,204.2 L1707.0,204.0 L1710.0,203.8 L1713.0,203.7 L1716.0,203.5 L1719.0,203.4 L1722.0,203.3 L1725.0,203.1 L1728.0,203.0 L1731.0,202.9 L1734.0,202.7 L1737.0,202.6 L1740.0,202.5 L1743.0,202.4 L1746.0,202.2 L1749.0,202.1 L1752.0,202.0 L1755.0,201.9 L1758.0,201.8 L1761.0,201.7 L1764.0,201.6 L1767.0,201.5 L1770.0,201.4 L1773.0,201.3 L1776.0,201.2 L1779.0,201.1 L1782.0,201.0 L1785.0,201.0 L1788.0,200.9 L1791.0,200.8 L1794.0,200.7 L1797.0,200.6 L1800.0,200.6 L1803.0,200.5 L1806.0,200.4 L1809.0,200.3 L1812.0,200.3 L1815.0,200.2 L1818.0,200.1 L1821.0,200.1 L1824.0,200.0 L1827.0,199.9 L1830.0,199.9 L1833.0,199.8 L1836.0,199.8 L1839.0,199.7 L1842.0,199.7 L1845.0,199.6 L1848.0,199.6 L1851.0,199.5 L1854.0,199.5 L1857.0,199.4 L1860.0,199.4 L1863.0,199.3 L1866.0,199.3 L1869.0,199.2 L1872.0,199.2 L1875.0,199.2 L1878.0,199.1 L1881.0,199.1 L1884.0,199.0 L1887.0,199.0 L1890.0,199.0 L1893.0,198.9 L1896.0,198.9 L1899.0,198.9 L1902.0,198.8 L1905.0,198.8 L1908.0,198.8 L1911.0,198.7 L1914.0,198.7 L1917.0,198.7 L1920.0,198.6 L1923.0,198.6 L1926.0,198.6 L1929.0,198.6 L1932.0,198.5 L1935.0,198.5 L1938.0,198.5 L1941.0,198.5 L1944.0,198.4 L1947.0,198.4 L1950.0,198.4 L1952.2,198.4"/>
</g>
</g>
<g filter="url(#bl)">
<rect x="273.4" y="151.9" width="556.1" height="348.8" fill="#fff" stroke="#1e1e1e" stroke-width="3.8"/>
</g>
<g filter="url(#bl)">
<rect x="286.9" y="193.6" width="159.2" height="3.9" fill="#12a8dc"/>
<rect x="286.9" y="197.3" width="159.2" height="4.2" fill="#0072c4"/>
<rect x="286.9" y="201.3" width="159.2" height="3.9" fill="#8ccae8"/>
<rect x="286.9" y="277.0" width="159.2" height="4.0" fill="#ffd3c3"/>
<rect x="286.9" y="280.9" width="159.2" height="4.3" fill="#fa500a"/>
<rect x="286.9" y="285.0" width="159.2" height="4.0" fill="#ff7f50"/>
<rect x="286.9" y="364.2" width="159.2" height="4.0" fill="#ffc44f"/>
<rect x="286.9" y="368.0" width="159.2" height="4.2" fill="#ffb000"/>
<rect x="286.9" y="372.0" width="159.2" height="4.2" fill="#ffebc8"/>
<rect x="286.9" y="448.0" width="159.2" height="4.0" fill="#d9b0d6"/>
<rect x="286.9" y="451.9" width="159.2" height="4.2" fill="#8e2890"/>
<rect x="286.9" y="455.9" width="159.2" height="4.2" fill="#bd7dbb"/>
</g>
<g filter="url(#bt)">
<text><tspan class="lg" x="457.46" y="212.70" textLength="32.64" lengthAdjust="spacingAndGlyphs">C</tspan><tspan class="lsub" x="490.50" y="232.70" textLength="75.03" lengthAdjust="spacingAndGlyphs">open</tspan><tspan class="lg" x="568.70" y="212.70" textLength="49.69" lengthAdjust="spacingAndGlyphs">=2</tspan><tspan class="lx" x="622.45" y="218.70" textLength="29.30" lengthAdjust="spacingAndGlyphs">&#215;</tspan> <tspan class="lg" x="670.61" y="212.70" textLength="45.54" lengthAdjust="spacingAndGlyphs">10</tspan><tspan class="lsup" x="715.79" y="192.30" textLength="33.12" lengthAdjust="spacingAndGlyphs">-9</tspan><tspan class="lg" x="746.86" y="212.70" textLength="66.25" lengthAdjust="spacingAndGlyphs">mS</tspan></text>
<text><tspan class="lg" x="457.46" y="300.30" textLength="32.64" lengthAdjust="spacingAndGlyphs">C</tspan><tspan class="lsub" x="490.50" y="320.30" textLength="75.03" lengthAdjust="spacingAndGlyphs">open</tspan><tspan class="lg" x="568.72" y="300.30" textLength="48.66" lengthAdjust="spacingAndGlyphs">=4</tspan><tspan class="lx" x="622.45" y="306.30" textLength="29.30" lengthAdjust="spacingAndGlyphs">&#215;</tspan> <tspan class="lg" x="670.61" y="300.30" textLength="45.54" lengthAdjust="spacingAndGlyphs">10</tspan><tspan class="lsup" x="715.79" y="279.90" textLength="33.12" lengthAdjust="spacingAndGlyphs">-9</tspan><tspan class="lg" x="746.86" y="300.30" textLength="66.25" lengthAdjust="spacingAndGlyphs">mS</tspan></text>
<text><tspan class="lg" x="457.46" y="383.50" textLength="32.64" lengthAdjust="spacingAndGlyphs">C</tspan><tspan class="lsub" x="490.50" y="403.50" textLength="75.03" lengthAdjust="spacingAndGlyphs">open</tspan><tspan class="lg" x="568.72" y="383.50" textLength="48.66" lengthAdjust="spacingAndGlyphs">=6</tspan><tspan class="lx" x="622.45" y="389.50" textLength="29.30" lengthAdjust="spacingAndGlyphs">&#215;</tspan> <tspan class="lg" x="670.61" y="383.50" textLength="45.54" lengthAdjust="spacingAndGlyphs">10</tspan><tspan class="lsup" x="715.79" y="363.10" textLength="33.12" lengthAdjust="spacingAndGlyphs">-9</tspan><tspan class="lg" x="746.86" y="383.50" textLength="66.25" lengthAdjust="spacingAndGlyphs">mS</tspan></text>
<text><tspan class="lg" x="457.46" y="470.50" textLength="32.64" lengthAdjust="spacingAndGlyphs">C</tspan><tspan class="lsub" x="490.50" y="490.50" textLength="75.03" lengthAdjust="spacingAndGlyphs">open</tspan><tspan class="lg" x="568.72" y="470.50" textLength="48.66" lengthAdjust="spacingAndGlyphs">=8</tspan><tspan class="lx" x="622.45" y="476.50" textLength="29.30" lengthAdjust="spacingAndGlyphs">&#215;</tspan> <tspan class="lg" x="670.61" y="470.50" textLength="45.54" lengthAdjust="spacingAndGlyphs">10</tspan><tspan class="lsup" x="715.79" y="450.10" textLength="33.12" lengthAdjust="spacingAndGlyphs">-9</tspan><tspan class="lg" x="746.86" y="470.50" textLength="66.25" lengthAdjust="spacingAndGlyphs">mS</tspan></text>
<text><tspan class="tk" x="183.03" y="1488.40" textLength="25.85" lengthAdjust="spacingAndGlyphs">0</tspan></text>
<text><tspan class="tk" x="115.60" y="1305.80" textLength="93.63" lengthAdjust="spacingAndGlyphs">0.01</tspan></text>
<text><tspan class="tk" x="115.60" y="1126.90" textLength="93.63" lengthAdjust="spacingAndGlyphs">0.02</tspan></text>
<text><tspan class="tk" x="115.61" y="944.10" textLength="92.61" lengthAdjust="spacingAndGlyphs">0.03</tspan></text>
<text><tspan class="tk" x="115.61" y="760.60" textLength="92.61" lengthAdjust="spacingAndGlyphs">0.04</tspan></text>
<text><tspan class="tk" x="115.61" y="578.10" textLength="92.61" lengthAdjust="spacingAndGlyphs">0.05</tspan></text>
<text><tspan class="tk" x="115.60" y="399.20" textLength="93.63" lengthAdjust="spacingAndGlyphs">0.06</tspan></text>
<text><tspan class="tk" x="115.60" y="216.10" textLength="93.63" lengthAdjust="spacingAndGlyphs">0.07</tspan></text>
<text><tspan class="tk" x="215.03" y="1535.80" textLength="25.96" lengthAdjust="spacingAndGlyphs">0</tspan></text>
<text><tspan class="tk" x="504.33" y="1535.80" textLength="23.50" lengthAdjust="spacingAndGlyphs">1</tspan></text>
<text><tspan class="tk" x="790.86" y="1535.80" textLength="27.82" lengthAdjust="spacingAndGlyphs">2</tspan></text>
<text><tspan class="tk" x="1077.00" y="1535.80" textLength="26.70" lengthAdjust="spacingAndGlyphs">3</tspan></text>
<text><tspan class="tk" x="1364.00" y="1535.80" textLength="25.68" lengthAdjust="spacingAndGlyphs">4</tspan></text>
<text><tspan class="tk" x="1654.50" y="1535.80" textLength="26.70" lengthAdjust="spacingAndGlyphs">5</tspan></text>
<text><tspan class="tk" x="1939.50" y="1535.80" textLength="26.70" lengthAdjust="spacingAndGlyphs">6</tspan></text>
<text><tspan class="b" x="801.15" y="85.30" textLength="35.31" lengthAdjust="spacingAndGlyphs">D</tspan> <tspan class="b" x="851.34" y="85.30" textLength="29.46" lengthAdjust="spacingAndGlyphs">=</tspan> <tspan class="b" x="901.19" y="85.30" textLength="53.28" lengthAdjust="spacingAndGlyphs">10</tspan><tspan class="bs" x="962.04" y="61.60" textLength="44.85" lengthAdjust="spacingAndGlyphs">10</tspan> <tspan class="b" x="1023.61" y="85.30" textLength="315.22" lengthAdjust="spacingAndGlyphs">channels/cm</tspan><tspan class="bs" x="1341.50" y="61.90" textLength="22.65" lengthAdjust="spacingAndGlyphs">2</tspan></text>
<text><tspan class="b" x="470.97" y="1615.50" textLength="91.18" lengthAdjust="spacingAndGlyphs">The</tspan> <tspan class="b" x="578.63" y="1615.50" textLength="164.88" lengthAdjust="spacingAndGlyphs">barrier</tspan> <tspan class="b" x="762.59" y="1615.50" textLength="151.31" lengthAdjust="spacingAndGlyphs">height</tspan> <tspan class="b" x="931.30" y="1615.50" textLength="49.84" lengthAdjust="spacingAndGlyphs">of</tspan> <tspan class="b" x="996.14" y="1615.50" textLength="74.39" lengthAdjust="spacingAndGlyphs">the</tspan> <tspan class="b" x="1086.11" y="1615.50" textLength="165.53" lengthAdjust="spacingAndGlyphs">closed</tspan> <tspan class="b" x="1269.32" y="1615.50" textLength="106.43" lengthAdjust="spacingAndGlyphs">gate</tspan> <tspan class="b" x="1391.88" y="1615.50" textLength="41.83" lengthAdjust="spacingAndGlyphs">G</tspan> <tspan class="b" x="1444.14" y="1615.50" textLength="15.48" lengthAdjust="spacingAndGlyphs">(</tspan><tspan class="xx" x="1467.78" y="1620.50" textLength="35.70" lengthAdjust="spacingAndGlyphs">&#215;</tspan> <tspan class="b" x="1524.96" y="1615.50" textLength="54.12" lengthAdjust="spacingAndGlyphs">10</tspan><tspan class="bs" x="1586.50" y="1591.50" textLength="57.43" lengthAdjust="spacingAndGlyphs">-20</tspan> <tspan class="b" x="1663.20" y="1615.50" textLength="44.45" lengthAdjust="spacingAndGlyphs">J)</tspan></text>
<text transform="translate(72.4 1178.2) rotate(-90)"><tspan class="b" x="0.96" y="0.00" textLength="90.08" lengthAdjust="spacingAndGlyphs">The</tspan> <tspan class="b" x="108.05" y="0.00" textLength="260.86" lengthAdjust="spacingAndGlyphs">membrane</tspan> <tspan class="b" x="386.60" y="0.00" textLength="219.88" lengthAdjust="spacingAndGlyphs">potential</tspan> <tspan class="b" x="619.90" y="0.00" textLength="32.40" lengthAdjust="spacingAndGlyphs">V</tspan><tspan class="bs" x="656.71" y="23.50" textLength="35.42" lengthAdjust="spacingAndGlyphs">m</tspan> <tspan class="b" x="712.55" y="0.00" textLength="66.77" lengthAdjust="spacingAndGlyphs">(V)</tspan></text>
</g>
</svg></body></html>
